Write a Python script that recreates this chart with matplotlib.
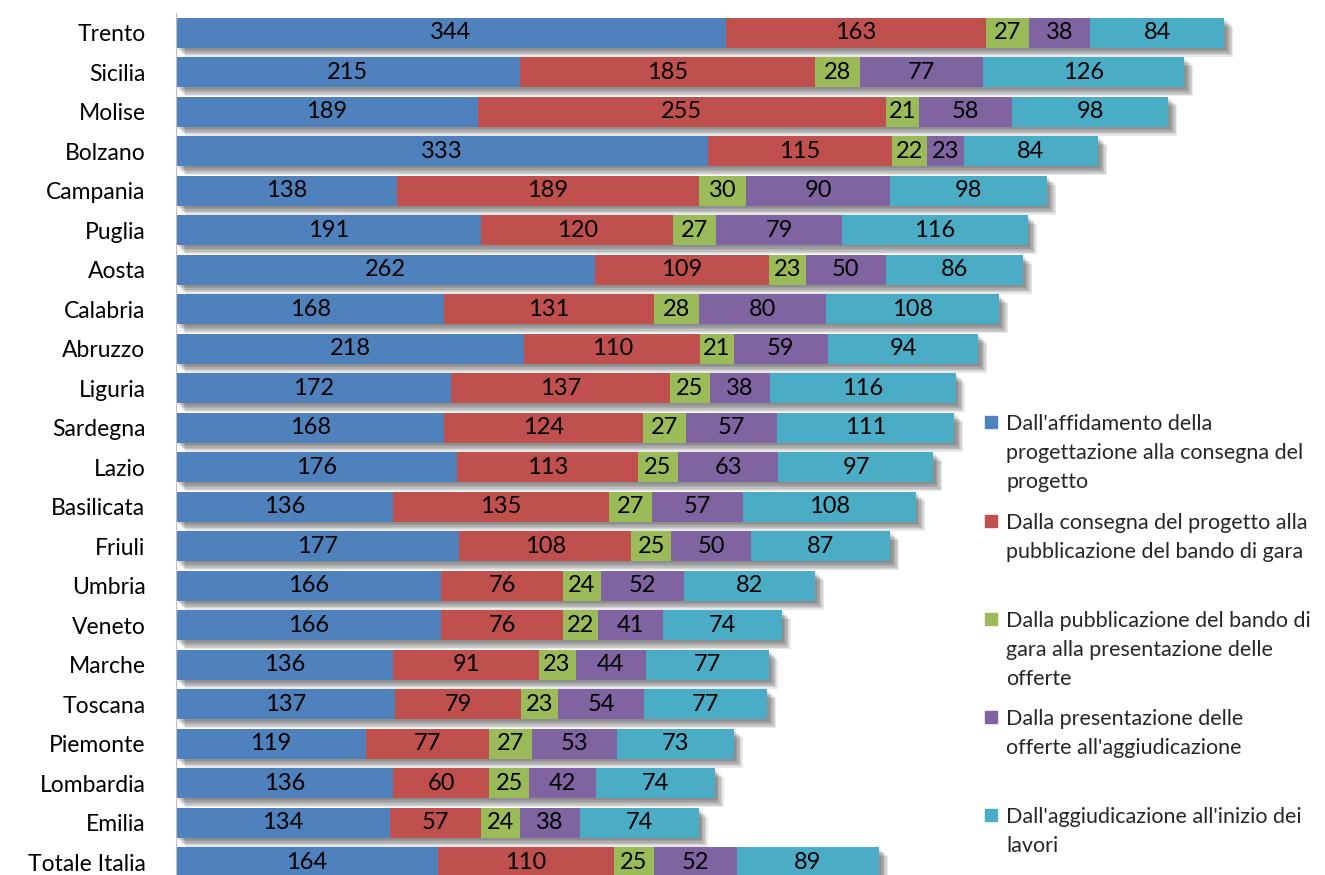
import matplotlib
matplotlib.use("Agg")
import matplotlib.pyplot as plt
import matplotlib.patheffects as pe
import numpy as np

plt.rcParams["font.family"] = ["Lato", "DejaVu Sans"]

regions = ["Trento", "Sicilia", "Molise", "Bolzano", "Campania", "Puglia", "Aosta",
           "Calabria", "Abruzzo", "Liguria", "Sardegna", "Lazio", "Basilicata", "Friuli",
           "Umbria", "Veneto", "Marche", "Toscana", "Piemonte", "Lombardia", "Emilia",
           "Totale Italia"]

progettazione = [344, 215, 189, 333, 138, 191, 262, 168, 218, 172, 168, 176, 136, 177,
                 166, 166, 136, 137, 119, 136, 134, 164]
pubblicazione = [163, 185, 255, 115, 189, 120, 109, 131, 110, 137, 124, 113, 135, 108,
                 76, 76, 91, 79, 77, 60, 57, 110]
offerte = [27, 28, 21, 22, 30, 27, 23, 28, 21, 25, 27, 25, 27, 25,
           24, 22, 23, 23, 27, 25, 24, 25]
aggiudicazione = [38, 77, 58, 23, 90, 79, 50, 80, 59, 38, 57, 63, 57, 50,
                  52, 41, 44, 54, 53, 42, 38, 52]
inizio_lavori = [84, 126, 98, 84, 98, 116, 86, 108, 94, 116, 111, 97, 108, 87,
                 82, 74, 77, 77, 73, 74, 74, 89]

series = [progettazione, pubblicazione, offerte, aggiudicazione, inizio_lavori]
colors = ["#4F81BD", "#C0504D", "#9BBB59", "#8064A2", "#4BACC6"]
legend_labels = [
    "Dall'affidamento della\nprogettazione alla consegna del\nprogetto",
    "Dalla consegna del progetto alla\npubblicazione del bando di gara",
    "Dalla pubblicazione del bando di\ngara alla presentazione delle\nofferte",
    "Dalla presentazione delle\nofferte all'aggiudicazione",
    "Dall'aggiudicazione all'inizio dei\nlavori",
]

fig = plt.figure(figsize=(13.25, 8.75), dpi=100)
ax = fig.add_axes([176 / 1325, 1 - 882 / 875, 1118.6 / 1325, 869 / 875])

y = np.arange(len(regions))
height = 0.76

# soft shadow under each whole bar (a few faint offset layers)
totals = np.sum(series, axis=0)
shadow = [pe.SimplePatchShadow(offset=(d, -d), shadow_rgbFace="#000000", alpha=0.09)
          for d in (1.5, 2.5, 3.5, 4.5, 5.5, 6.5)]
ax.barh(y, totals, height=height, color="white", zorder=1,
        path_effects=shadow + [pe.Normal()])

left = np.zeros(len(regions))
for vals, col in zip(series, colors):
    bars = ax.barh(y, vals, left=left, height=height, color=col, zorder=2)
    for b, v in zip(bars, vals):
        ax.text(b.get_x() + b.get_width() / 2, b.get_y() + b.get_height() / 2, str(v),
                ha="center", va="center", fontsize=17, color="black", zorder=3)
    left += np.array(vals)

ax.set_xlim(0, 700)
ax.set_ylim(len(regions) - 0.5, -0.5)
ax.set_yticks(y)
ax.set_yticklabels(regions, fontsize=16.5)
ax.tick_params(axis="y", length=0, pad=22)
ax.set_xticks([])
for s in ["top", "right", "bottom"]:
    ax.spines[s].set_visible(False)
ax.spines["left"].set_color("#bfbfbf")

# legend drawn by hand to keep the uneven spacing
legend_centers = [422, 521, 619, 717, 815]
for c, col, lab in zip(legend_centers, colors, legend_labels):
    fig.patches.append(plt.Rectangle((985 / 1325, 1 - (c + 6) / 875), 12 / 1325, 12 / 875,
                                     transform=fig.transFigure, color=col))
    fig.text(1006 / 1325, 1 - (c - 8) / 875, lab, ha="left", va="top",
             fontsize=15.5, linespacing=1.55, color="#262626")

fig.savefig("out.png", dpi=100)
